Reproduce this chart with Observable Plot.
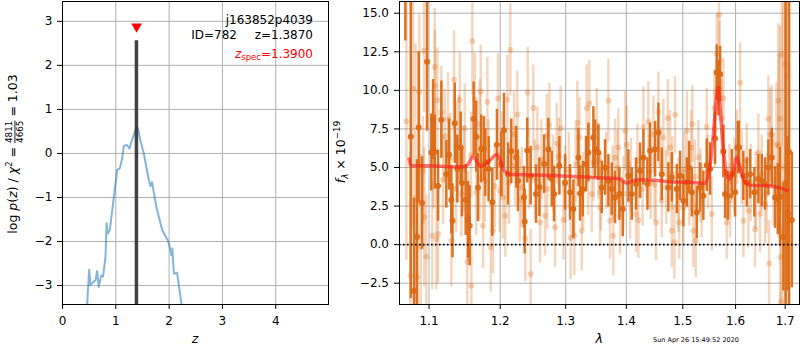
<!DOCTYPE html>
<html><head><meta charset="utf-8">
<script src="https://cdn.jsdelivr.net/npm/d3@7"></script>
<script src="https://cdn.jsdelivr.net/npm/@observablehq/plot@0.6"></script>
<style>
body{margin:0;background:#fff;}
#wrap{position:relative;width:800px;height:350px;overflow:hidden;background:#fff;}
#wrap > svg{position:absolute;top:0;}
</style></head><body><div id="wrap"></div>
<script>
// ---------- left panel data: log p(z) ----------
const pzZ = [0.445,0.463,0.50,0.525,0.575, 0.62,0.65,0.68,0.725,0.76, 0.807,0.826,0.85,0.888,0.963, 1.026,1.075,1.12,1.15,1.21, 1.257,1.307,1.388,1.413,1.463, 1.525,1.62,1.65,1.68,1.76, 1.87,1.975,2.01,2.04,2.06, 2.09,2.15,2.23,2.25];
const pzLog = [-3.9,-3.41,-2.64,-2.99,-2.92, -2.88,-2.67,-3.03,-2.77,-2.8, -2.35,-1.58,-1.82,-1.74,-0.99, -0.38,-0.34,-0.11,0.17,0.19, 0.11,0.32,0.59,0.58,0.29, 0.0,-0.61,-0.74,-0.65,-1.21, -1.74,-1.97,-2.11,-2.31,-2.16, -2.73,-2.71,-3.41,-3.6];
const zBest = 1.387, zBestTop = 2.56;
const zSpec = 1.39, zSpecMarkY = 2.85;
const zTicks = [0,1,2,3,4];
const pzTicks = [-3,-2,-1,0,1,2,3];
const zDomain = [0, 4.99], pzDomain = [-3.43, 3.45];

// ---------- right panel data: spectrum ----------
const darkLam = [1.0686,1.0757,1.0800,1.0840,1.0862,1.0906,1.0973, 1.1031,1.1054,1.1077,1.1122,1.1167, 1.1235,1.1272,1.1304,1.1320,1.1351, 1.1387,1.1434,1.1452,1.1504,1.1537, 1.1560,1.1617,1.1654,1.1678,1.1725, 1.1764,1.1783,1.1832,1.1884,1.1952, 1.2015,1.2055,1.2114,1.2163,1.2238, 1.2263,1.2353,1.2364,1.2403,1.2455,
 1.2537,1.2588,1.2661,1.2727,1.2780, 1.2816,1.2900,1.2990,1.3069,1.3122, 1.3203,1.3230,1.3274,1.3327,1.3365, 1.3447,1.3475,1.3529,1.3586,1.3641, 1.3696,1.3753,1.3808,1.3881,1.3939, 1.4035,1.4093,1.4167,1.4237,1.4295, 1.4365,1.4412,1.4501,1.4559,1.4620,
 1.4738,1.4800,1.4891,1.4951,1.5011, 1.5074,1.5116,1.5166,1.5259,1.5320, 1.5382,1.5446,1.5509,1.5604,1.5636, 1.5667,1.5700,1.5763,1.5796,1.5848, 1.5926,1.5990,1.6043,1.6068,1.6153, 1.6220,1.6286,1.6371,1.6452,1.6520, 1.6587,1.6654,1.6723,1.6791,1.6846, 1.6894,1.6962,1.7010,1.7054,1.7080,1.7138];
const darkFlux = [17.5,7.0,-3.0,0.5,7.6,2.7,11.85, 5.98,8.1,6.0,3.82,8.1, 4.57,5.83,2.89,1.55,7.87, 4.9,6.3,4.0,2.9,1.6, 1.23,8.14,7.0,3.7,6.2, 6.2,5.33,4.9,2.74,6.47, 5.2,7.42,4.57,6.05,5.66, 4.14,3.07,1.5,6.1,4.47,
 3.28,3.72,5.22,6.19,4.25, 3.28,5.11,4.03,3.39,2.31, 5.65,3.32,3.6,5.22,5.97, 6.94,6.19,5.97,3.71,5.0, 4.14,3.6,3.06,3.28,2.31, 4.46,3.28,3.93,4.79,5.65, 3.93,6.08,6.19,7.27,4.57,
 3.71,4.36,3.6,4.46,2.85, 4.03,5.0,3.39,2.09,3.71, 3.17,5.15,4.9,6.9,11.15, 10.14,11.05,6.04,3.28,3.17, 4.57,3.39,6.3,6.3,4.46, 4.03,4.57,3.39,4.25,4.14, 3.93,5.0,5.65,3.06,2.95, 3.1,0.5,4.0,2.0,6.0,1.6];
const darkErr = [4.3,10.5,6.0,5.0,4.9,3.0,4.5, 2.5,2.6,2.4,2.3,2.5, 2.2,2.3,2.2,2.4,2.6, 2.2,2.3,2.2,2.3,2.5, 2.6,2.4,2.3,2.2,2.2, 2.1,2.2,2.1,2.2,2.3, 2.1,2.4,2.0,2.1,2.0, 2.0,2.0,2.1,2.1,1.9,
 1.9,1.9,1.9,2.0,1.8, 1.8,1.9,1.8,1.8,1.9, 1.9,1.8,1.8,1.8,1.9, 2.0,1.9,1.8,1.7,1.8, 1.7,1.7,1.7,1.7,1.8, 1.7,1.7,1.7,1.8,1.8, 1.7,1.8,1.8,1.9,1.7,
 1.6,1.6,1.6,1.6,1.7, 1.6,1.7,1.6,1.7,1.6, 1.6,1.7,1.7,1.7,1.8, 1.8,1.8,1.7,1.6,1.6, 1.6,1.6,1.7,1.7,1.6, 1.6,1.6,1.6,1.6,1.7, 1.7,1.8,1.9,2.0,2.3, 3.2,3.5,14,5,12,4.4];

const lightLam = [
 1.0751,1.0787,1.0840,1.0889,1.0933,1.0964,1.0935,1.1044,1.1077,1.1080,
 1.1112,1.1122,1.1099,1.1167,1.1213,1.1258,1.1304,1.1341,1.1373,1.1407,
 1.1421,1.1443,1.1491,1.1527,1.1537,1.1584,1.1598,1.1632,1.1654,1.1703,
 1.1718,1.1751,1.1775,1.1813,1.1862,1.1895,1.1968,1.1993,1.2042,1.2075,
 1.2105,1.2149,1.2205,1.2254,1.2290,1.2374,1.2410,1.2455,1.2496,1.2557,
 1.2599,1.2676,1.2702,1.2743,1.2832,1.2858,1.2921,1.2963,1.3080,1.3138,
 1.3186,1.3219,1.3258,1.3339,1.3381,1.3421,1.3503,1.3529,1.3557,1.3696,
 1.3724,1.3779,1.3808,1.3864,1.3893,1.3978,1.4008,1.4064,1.4167,1.4207,
 1.4295,1.4382,1.4424,1.4471,1.4518,1.4559,1.4620,1.4648,1.4727,1.4769,
 1.4800,1.4860,1.4847,1.4933,1.5011,1.5074,1.5153,1.5177,1.5196,1.5240,
 1.5289,1.5352,1.5446,1.5541,1.5591,1.5636,1.5680,1.5690,1.5763,1.5829,
 1.5893,1.6024,1.6088,1.6153,1.6220,1.6253,1.6386,1.6452,1.6486,1.6587,
 1.6654,1.6669,1.6689,1.6723,1.6859,1.6865,1.6894,1.6900,1.6929,1.6998,
 1.7033,1.6911,1.092,1.106,1.119,1.129,1.137,1.148,1.158,1.170,
 1.183,1.192,1.203,1.213,1.222,1.232,1.243,1.252,1.262,1.271,
 1.280,1.289,1.299,1.305,1.316,1.328,1.336,1.345,1.357,1.366,
 1.377,1.385,1.395,1.408,1.419,1.428,1.440,1.449,1.460,1.470,
 1.481,1.492,1.503,1.512,1.522,1.533,1.547,1.560,1.573,1.588,
 1.598,1.612,1.630,1.640,1.652,1.662,1.676,1.0700,1.0820,1.0870,
 1.6960,1.7080,1.6820];
const lightFlux = [
 -2.0,10.1,-2.1,-0.17,12.56,-0.77,1.77,0.58,11.52,10.29,
 9.36,0.69,0.36,8.56,7.05,8.13,0.26,10.68,6.4,6.77,
 9.38,3.3,7.53,-1.13,1.83,-2.66,13.2,9.4,3.39,7.8,
 9.92,1.23,4.14,9.25,-0.17,0.9,9.47,3.5,3.06,1.87,
 9.4,12.64,7.14,8.43,2.85,0.4,9.88,-1.9,8.85,6.3,
 1.44,1.87,7.05,7.76,1.12,6.56,7.55,1.6,0.43,0.58,
 7.9,6.94,0.9,8.85,9.15,3.28,7.53,5.43,2.41,9.32,
 1.55,0.58,5.65,6.3,1.87,7.36,6.49,2.85,1.98,1.6,
 7.63,7.97,4.03,7.14,1.44,8.59,2.85,6.94,8.2,6.3,
 0.9,8.42,0.15,1.44,2.41,7.4,6.3,7.81,0.9,0.26,
 5.65,2.85,7.63,1.98,8.85,12.38,14.89,11.9,9.49,1.44,
 2.85,6.3,10.49,1.55,5.43,2.2,1.0,5.97,1.98,2.63,
 8.15,-1.23,7.14,7.14,9.32,6.4,8.15,-0.8,12.3,11.7,
 10.9,-3.7,4.8,5.3,4.2,5.6,3.6,4.9,5.8,4.3,
 5.4,3.8,5.9,4.0,5.1,3.7,4.9,4.2,5.5,3.6,
 4.6,5.7,3.9,4.8,5.2,3.5,4.4,5.3,3.4,4.8,
 4.0,5.0,3.3,4.5,5.4,3.6,4.7,3.9,5.2,3.7,
 4.6,3.2,4.9,3.6,4.4,3.8,4.7,7.5,8.2,4.1,
 4.5,5.0,4.0,3.5,4.6,3.3,4.2,8.0,3.0,9.9,
 5.0,6.0,6.5];
const lightErr = [
 8,9,7,6,4,4,4.5,3.5,3.8,3.6,
 3.4,3.2,3.3,3.0,3.0,3.0,3.0,3.2,2.9,2.9,
 3.1,2.8,2.9,3.0,2.9,3.2,3.5,3.0,2.8,2.9,
 3.0,2.8,2.7,2.9,2.9,2.8,2.9,2.7,2.7,2.7,
 2.9,3.0,2.8,2.8,2.7,2.8,2.9,2.9,2.8,2.6,
 2.6,2.6,2.7,2.7,2.6,2.6,2.7,2.6,2.7,2.6,
 2.7,2.6,2.6,2.8,2.8,2.5,2.6,2.5,2.5,2.7,
 2.5,2.6,2.5,2.5,2.5,2.6,2.5,2.5,2.5,2.5,
 2.6,2.6,2.4,2.5,2.5,2.6,2.4,2.5,2.5,2.4,
 2.4,2.5,2.4,2.4,2.4,2.5,2.4,2.5,2.4,2.4,
 2.4,2.4,2.5,2.4,2.5,2.6,2.7,2.6,2.6,2.4,
 2.4,2.4,2.6,2.4,2.4,2.4,2.5,2.5,2.5,2.6,
 2.8,2.8,3.0,3.2,5,6,6,5,6,9,
 10,5,3.5,3.0,2.9,2.9,2.8,2.8,2.8,2.7,
 2.7,2.7,2.7,2.7,2.6,2.6,2.6,2.6,2.6,2.6,
 2.5,2.5,2.5,2.5,2.5,2.5,2.5,2.5,2.5,2.5,
 2.4,2.4,2.4,2.4,2.4,2.4,2.4,2.4,2.4,2.4,
 2.4,2.4,2.4,2.4,2.4,2.4,2.4,2.5,2.5,2.4,
 2.4,2.4,2.5,2.5,2.5,2.6,3.0,9,10,5,
 12,12,4];

const modelLam = [1.0734,1.0760,1.0970,1.1150,1.1420, 1.1510,1.1610,1.1660,1.1720,1.1830, 1.1950,1.2000,1.2060,1.2160,1.2395, 1.2636,1.2860,1.3121,1.3390,1.3668, 1.3890,1.4008,1.4124,1.4240,1.4530, 1.4830,1.5135,1.5410,1.5510,1.5570, 1.5626,1.5666,1.5690,1.5760,1.5830, 1.5883,1.5950,1.6025,1.6078,1.6177, 1.6310,1.6624,1.6760,1.6900,1.7040];
const modelFlux = [5.55,5.11,5.11,5.08,5.04, 5.08,5.7,5.4,5.08,5.38, 5.85,5.45,4.8,4.56,4.52, 4.5,4.47,4.42,4.36,4.32, 4.27,3.98,4.16,4.2,4.16, 4.06,4.04,3.97,5.2,7.13, 9.3,10.2,9.3,6.3,4.5, 4.27,4.7,5.67,5.1,4.08, 3.84,3.82,3.77,3.67,3.52];

const lamTicks = [1.1,1.2,1.3,1.4,1.5,1.6,1.7];
const fTicks = [-2.5,0,2.5,5,7.5,10,12.5,15];
const lamDomain = [1.061, 1.730], fDomain = [-3.88, 15.76];

// ---------- build ----------
const FONT = "DejaVu Sans";
const orange = "#db6a16";
const gridStyle = {stroke: "#b0b0b0", strokeOpacity: 1, strokeWidth: 1};
const baseStyle = {background: "transparent", fontFamily: FONT, fontSize: "12px", color: "black"};

const pz = pzZ.map((z, i) => ({z, p: pzLog[i]}));
const dark = darkLam.map((lam, i) => ({lam, f: darkFlux[i], e: darkErr[i]}));
const light = lightLam.map((lam, i) => ({lam, f: lightFlux[i], e: lightErr[i]}));
const model = modelLam.map((lam, i) => ({lam, f: modelFlux[i]}));

const triDown = {draw(ctx, size) {
  const w = Math.sqrt(size) * 0.5;
  ctx.moveTo(-w, -w * 0.85); ctx.lineTo(w, -w * 0.85); ctx.lineTo(0, w * 0.9); ctx.closePath();
}};

const left = Plot.plot({
  width: 340, height: 350, marginLeft: 62, marginRight: 12, marginTop: 1, marginBottom: 46,
  style: baseStyle,
  x: {domain: zDomain},
  y: {domain: pzDomain},
  marks: [
    Plot.gridX(zTicks, gridStyle),
    Plot.gridY(pzTicks, gridStyle),
    Plot.line(pz, {x: "z", y: "p", stroke: "#1f77b4", strokeOpacity: 0.55, strokeWidth: 2, clip: true}),
    Plot.ruleX([{z: zBest, top: zBestTop}], {x: "z", y1: pzDomain[0] - 1, y2: "top", stroke: "#333", strokeOpacity: 0.92, strokeWidth: 3.5, clip: true}),
    Plot.dot([{z: zSpec, y: zSpecMarkY}], {x: "z", y: "y", symbol: triDown, r: 6, fill: "red", stroke: "none"}),
    Plot.axisX(zTicks, {tickSize: 5, tickPadding: 7, label: null, tickFormat: d => String(d)}),
    Plot.axisY(pzTicks, {tickSize: 5, tickPadding: 5, label: null}),
    Plot.frame({stroke: "black"})
  ]
});

const right = Plot.plot({
  width: 480, height: 350, marginLeft: 79, marginRight: 1, marginTop: 1, marginBottom: 46,
  style: baseStyle,
  x: {type: "log", domain: lamDomain},
  y: {domain: fDomain},
  marks: [
    Plot.gridX(lamTicks, gridStyle),
    Plot.gridY(fTicks, gridStyle),
    Plot.ruleX(light, {x: "lam", y1: d => d.f - d.e, y2: d => d.f + d.e, stroke: orange, strokeOpacity: 0.28, strokeWidth: 2.5, clip: true}),
    Plot.dot(light, {x: "lam", y: "f", r: 3, fill: orange, fillOpacity: 0.28, stroke: "none", clip: true}),
    Plot.ruleX(dark, {x: "lam", y1: d => d.f - d.e, y2: d => d.f + d.e, stroke: orange, strokeOpacity: 0.95, strokeWidth: 2.5, clip: true}),
    Plot.dot(dark, {x: "lam", y: "f", r: 3, fill: orange, fillOpacity: 0.95, stroke: "none", clip: true}),
    Plot.line(model, {x: "lam", y: "f", curve: "monotone-x", stroke: "#ff1a1a", strokeOpacity: 0.6, strokeWidth: 3.5, clip: true}),
    Plot.ruleY([0], {stroke: "black", strokeWidth: 1.6, strokeDasharray: "1.6,2.4"}),
    Plot.axisX(lamTicks, {tickSize: 5, tickPadding: 7, label: null, tickFormat: d3.format(".1f")}),
    Plot.axisY(fTicks, {tickSize: 5, tickPadding: 5.5, label: null, tickFormat: d3.format(".1f")}),
    Plot.frame({stroke: "black"})
  ]
});

const wrap = document.getElementById("wrap");
left.style.left = "0px";
right.style.left = "320px";
wrap.appendChild(right);
wrap.appendChild(left);

// ---------- annotation text ----------
const L = d3.select(left).append("g").attr("font-family", FONT).attr("font-size", 12).attr("fill", "black");
L.append("text").attr("x", 313).attr("y", 23.5).attr("text-anchor", "end").text("j163852p4039");
L.append("text").attr("x", 237).attr("y", 38.5).attr("text-anchor", "end").text("ID=782");
L.append("text").attr("x", 313).attr("y", 38.5).attr("text-anchor", "end").text("z=1.3870");
const zs = L.append("text").attr("x", 313).attr("y", 57.5).attr("text-anchor", "end").attr("fill", "red");
zs.append("tspan").attr("font-style", "italic").text("z");
zs.append("tspan").attr("font-size", 8.5).attr("dy", 2.5).text("spec");
zs.append("tspan").attr("dy", -2.5).text("=1.3900");
L.append("text").attr("x", 195).attr("y", 343).attr("text-anchor", "middle").attr("font-size", 12.5).attr("font-style", "italic").text("z");

// y label with stacked fraction (single text element, font-relative offsets)
const fracSize = 8.8;
const digitW = 0.636 * fracSize * 4;
const ty = L.append("text").attr("font-size", 12.5).attr("text-anchor", "middle")
  .attr("transform", "translate(17,154) rotate(-90)");
ty.append("tspan").text("log\u00a0");
ty.append("tspan").attr("font-style", "italic").text("p");
ty.append("tspan").text("(");
ty.append("tspan").attr("font-style", "italic").text("z");
ty.append("tspan").text(")\u00a0/\u00a0");
ty.append("tspan").attr("font-style", "italic").text("χ");
ty.append("tspan").attr("font-size", 8.5).attr("dy", -5).text("2");
ty.append("tspan").attr("dy", 5).text("\u00a0=\u00a0");
ty.append("tspan").attr("font-size", fracSize).attr("dy", -5.5).text("4811");
ty.append("tspan").attr("font-size", fracSize).attr("dx", -digitW).attr("dy", 11)
  .style("text-decoration", "overline").text("4665");
ty.append("tspan").attr("dy", -5.5).text("\u00a0=\u00a01.03");

const R = d3.select(right).append("g").attr("font-family", FONT).attr("font-size", 12.5).attr("fill", "black");
R.append("text").attr("x", 279.3).attr("y", 343).attr("text-anchor", "middle").attr("font-style", "italic").text("λ");
R.append("text").attr("x", 376).attr("y", 342).attr("font-size", 6.5).text("Sun Apr 26 15:49:52 2020");
const fl = R.append("text").attr("text-anchor", "middle").attr("transform", "translate(25,152) rotate(-90)");
fl.append("tspan").attr("font-style", "italic").text("f");
fl.append("tspan").attr("font-style", "italic").attr("font-size", 8.8).attr("dy", 3).text("λ");
fl.append("tspan").attr("dy", -3).text("\u00a0×\u00a010");
fl.append("tspan").attr("font-size", 8.8).attr("dy", -5).text("−19");
</script></body></html>
